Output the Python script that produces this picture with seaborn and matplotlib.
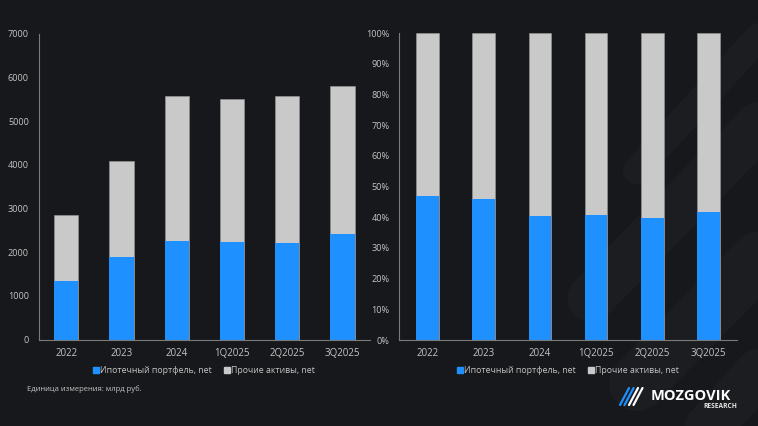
"""
Mortgage portfolio vs other assets: absolute values and shares.
"""

import matplotlib.pyplot as plt
import pandas as pd
import seaborn as sns
from matplotlib.lines import Line2D

periods = ["2022", "2023", "2024", "1Q2025", "2Q2025", "3Q2025"]
mortgage = [1343, 1886, 2252, 2236, 2220, 2426]
total_assets = [2860, 4089, 5577, 5501, 5577, 5805]

BG = "#17181b"
BLUE = "#1e90ff"
GREY = "#c9c9c9"
TXT = "#c4c4c4"
SPINE = "#7a7a7a"

df = pd.DataFrame({"period": periods, "mortgage": mortgage, "total": total_assets})
df["other"] = df["total"] - df["mortgage"]
df["mortgage_share"] = df["mortgage"] / df["total"] * 100
df["total_share"] = 100.0

sns.set_theme(style="dark")
plt.rcParams["font.family"] = ["Open Sans", "DejaVu Sans"]

fig = plt.figure(figsize=(7.58, 4.26), dpi=100, facecolor=BG)

# background decoration (diagonal rounded stripes, very faint)
deco = [
    ((0.78, 0.30), (1.02, 0.74), 34),
    ((0.84, 0.10), (1.05, 0.48), 40),
    ((0.91, -0.05), (1.05, 0.22), 34),
    ((0.84, 0.60), (1.02, 0.95), 20),
]
for (x0, y0), (x1, y1), lw in deco:
    fig.add_artist(Line2D([x0, x1], [y0, y1], transform=fig.transFigure,
                          color="#1b1d21", lw=lw, solid_capstyle="round", zorder=0))

W, H = 758, 426
ax1 = fig.add_axes([38.7 / W, 1 - 339.7 / H, (370 - 38.7) / W, (339.7 - 33.7) / H])
ax2 = fig.add_axes([399.3 / W, 1 - 340 / H, (736.7 - 399.3) / W, (340 - 33.3) / H])


def style_axis(ax):
    ax.set_facecolor("none")
    for s in ["top", "right"]:
        ax.spines[s].set_visible(False)
    for s in ["left", "bottom"]:
        ax.spines[s].set_visible(True)
        ax.spines[s].set_color(SPINE)
        ax.spines[s].set_linewidth(0.8)
    ax.tick_params(axis="both", length=0, colors=TXT)
    ax.tick_params(axis="y", labelsize=6.6, pad=7)
    ax.tick_params(axis="x", labelsize=7, pad=6)
    ax.grid(False)
    ax.set_xlabel("")
    ax.set_ylabel("")
    ax.set_xlim(-0.5, 5.5)


# left: absolute values
sns.barplot(data=df, x="period", y="total", color=GREY, width=0.44, ax=ax1,
            saturation=1, edgecolor="#9a9a9a", linewidth=0.4)
sns.barplot(data=df, x="period", y="mortgage", color=BLUE, width=0.44, ax=ax1,
            saturation=1, linewidth=0)
style_axis(ax1)
ax1.set_ylim(0, 7000)
ax1.set_yticks(range(0, 7001, 1000))

# right: shares
sns.barplot(data=df, x="period", y="total_share", color=GREY, width=0.40, ax=ax2,
            saturation=1, edgecolor="#9a9a9a", linewidth=0.4)
sns.barplot(data=df, x="period", y="mortgage_share", color=BLUE, width=0.40, ax=ax2,
            saturation=1, linewidth=0)
style_axis(ax2)
ax2.set_ylim(0, 100)
ax2.set_yticks(range(0, 101, 10))
ax2.set_yticklabels([f"{v}%" for v in range(0, 101, 10)])

handles = [
    Line2D([], [], marker="s", ls="none", color=BLUE, markersize=4),
    Line2D([], [], marker="s", ls="none", color=GREY, markersize=4),
]
labels = ["Ипотечный портфель, net", "Прочие активы, net"]
for ax in (ax1, ax2):
    ax.legend(handles, labels, loc="upper center", bbox_to_anchor=(0.5, -0.06),
              ncol=2, frameon=False, fontsize=6.3, labelcolor=TXT,
              handlelength=0.6, handletextpad=0.2, columnspacing=1.4)

fig.text(27 / W, 1 - 389 / H, "Единица измерения: млрд руб.", fontsize=5.5,
         color=TXT, va="center", ha="left")

# logo
for i, c in enumerate([BLUE, BLUE, "white", "white"]):
    x = 620 + i * 4.5
    fig.add_artist(Line2D([x / W, (x + 9) / W], [1 - 405 / H, 1 - 388 / H],
                          transform=fig.transFigure, color=c, lw=1.6,
                          solid_capstyle="round"))
fig.text(651 / W, 1 - 396 / H, "MOZGOVIK", fontsize=10.5, fontweight="bold",
         color="white", va="center", ha="left")
fig.text(737 / W, 1 - 406 / H, "RESEARCH", fontsize=4.8, fontweight="bold",
         color="#e6e6e6", va="center", ha="right")

fig.savefig("out.png", dpi=100, facecolor=BG)
